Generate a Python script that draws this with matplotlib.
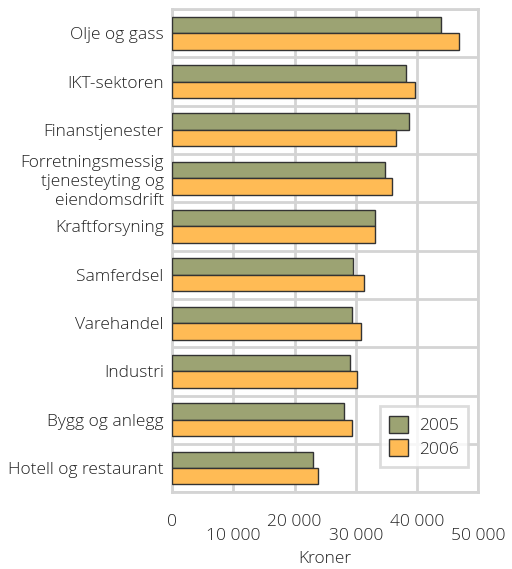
import matplotlib
matplotlib.use("Agg")
import matplotlib.pyplot as plt
import numpy as np

plt.rcParams['font.family'] = ['Open Sans', 'DejaVu Sans']
plt.rcParams['font.weight'] = 'light'
plt.rcParams['axes.labelweight'] = 'light'

categories = [
    "Olje og gass",
    "IKT-sektoren",
    "Finanstjenester",
    "Forretningsmessig\ntjenesteyting og\neiendomsdrift",
    "Kraftforsyning",
    "Samferdsel",
    "Varehandel",
    "Industri",
    "Bygg og anlegg",
    "Hotell og restaurant",
]
v2005 = [43950, 38170, 38720, 34750, 33170, 29630, 29410, 29030, 28160, 23090]
v2006 = [46900, 39700, 36650, 35900, 33170, 31270, 30880, 30230, 29360, 23800]
xticks = [0, 10000, 20000, 30000, 40000, 50000]
xticklabels = ["0", "10 000", "20 000", "30 000", "40 000", "50 000"]

green = "#9ca373"
orange = "#ffbb55"
grid_c = "#d4d4d4"
text_c = "#222222"

fig = plt.figure(figsize=(5.12, 5.69), dpi=100)
ax = fig.add_axes([0.336, 0.135, 0.598, 0.849])

y = np.arange(len(categories))
h = 0.34
ax.barh(y - h / 2, v2005, height=h, color=green, edgecolor="#333333", linewidth=1, label="2005", zorder=3)
ax.barh(y + h / 2, v2006, height=h, color=orange, edgecolor="#333333", linewidth=1, label="2006", zorder=3)

ax.set_xlim(0, 50000)
ax.set_ylim(len(categories) - 0.5, -0.5)

ax.set_yticks(y)
ax.set_yticklabels(categories, fontsize=12.5, linespacing=1.25)
ax.set_yticks(np.arange(-0.5, len(categories), 1), minor=True)
ax.tick_params(axis="y", which="major", length=0, pad=6, colors=text_c)
ax.tick_params(axis="y", which="minor", length=0)
ax.grid(axis="y", which="minor", color=grid_c, linewidth=2, zorder=0)

ax.set_xticks(xticks)
ax.set_xticklabels(xticklabels, fontsize=12.5)
ax.tick_params(axis="x", length=0, colors=text_c)
for i, t in enumerate(ax.xaxis.get_major_ticks()):
    t.set_pad(16 if i % 2 == 0 else 26)
ax.grid(axis="x", which="major", color=grid_c, linewidth=2, zorder=0)
ax.set_xlabel("Kroner", fontsize=12.5, labelpad=5, color=text_c)

for s in ax.spines.values():
    s.set_color(grid_c)
    s.set_linewidth(2)

leg = ax.legend(loc="lower right", bbox_to_anchor=(0.967, 0.052), borderaxespad=0,
                fontsize=12.5, frameon=True, fancybox=False, edgecolor=grid_c,
                handlelength=1.1, handleheight=1.1, borderpad=0.55, labelspacing=0.3,
                handletextpad=0.6)
leg.get_frame().set_linewidth(2)
for t in leg.get_texts():
    t.set_color(text_c)

fig.savefig("out.png", dpi=100)
